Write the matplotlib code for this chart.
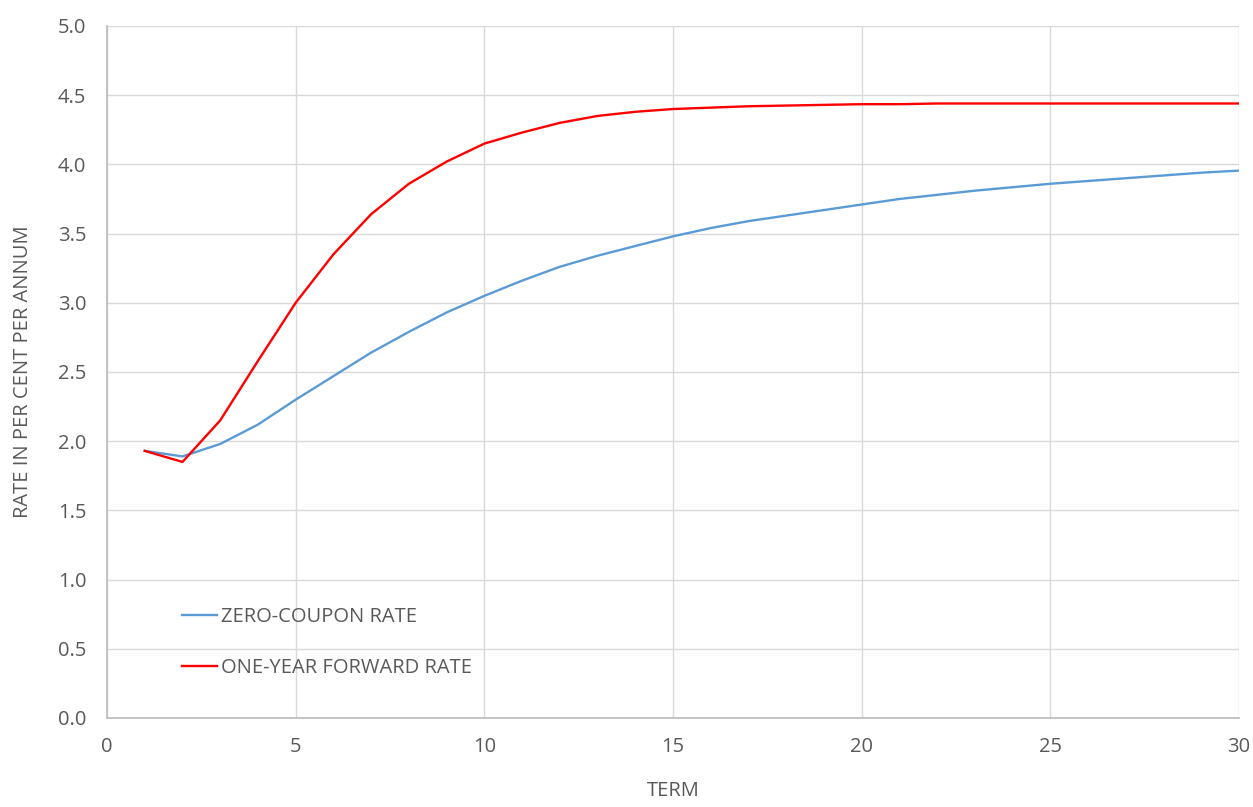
import matplotlib
matplotlib.use("Agg")
import matplotlib.pyplot as plt

# =====================================================
# Data
# =====================================================

term = list(range(1, 31))

zero_coupon = [1.93, 1.89, 1.98, 2.12, 2.30, 2.47, 2.64, 2.79, 2.93, 3.05,
               3.16, 3.26, 3.34, 3.41, 3.48, 3.54, 3.59, 3.63, 3.67, 3.71,
               3.75, 3.78, 3.81, 3.835, 3.86, 3.88, 3.90, 3.92, 3.94, 3.955]

forward = [1.93, 1.85, 2.15, 2.58, 3.00, 3.35, 3.64, 3.86, 4.02, 4.15,
           4.23, 4.30, 4.35, 4.38, 4.40, 4.41, 4.42, 4.425, 4.43, 4.435,
           4.435, 4.44, 4.44, 4.44, 4.44, 4.44, 4.44, 4.44, 4.44, 4.44]

x_ticks = [0, 5, 10, 15, 20, 25, 30]
y_ticks = [0.0, 0.5, 1.0, 1.5, 2.0, 2.5, 3.0, 3.5, 4.0, 4.5, 5.0]

text_col = "#595959"

plt.rcParams["font.family"] = ["Open Sans", "DejaVu Sans"]

fig = plt.figure(figsize=(12.53, 8.07), dpi=100)
ax = fig.add_axes([0.0854, 0.1103, 0.9034, 0.8575])

ax.plot(term, zero_coupon, color="#5b9bd5", linewidth=1.7, label="ZERO-COUPON RATE")
ax.plot(term, forward, color="#ff0000", linewidth=1.7, label="ONE-YEAR FORWARD RATE")

ax.set_xlim(0, 30)
ax.set_ylim(0, 5)
ax.set_xticks(x_ticks)
ax.set_yticks(y_ticks)
ax.set_yticklabels([f"{v:.1f}" for v in y_ticks])

ax.grid(True, color="#d9d9d9", linewidth=1)
ax.set_axisbelow(True)

for side in ["top", "right"]:
    ax.spines[side].set_visible(False)
for side in ["left", "bottom"]:
    ax.spines[side].set_color("#bfbfbf")
    ax.spines[side].set_linewidth(1.3)

ax.tick_params(length=0, labelsize=14.5, labelcolor=text_col)
ax.tick_params(axis="x", pad=14)
ax.tick_params(axis="y", pad=15)

ax.set_xlabel("TERM", fontsize=14.5, color=text_col, labelpad=17)
ax.set_ylabel("RATE IN PER CENT PER ANNUM", fontsize=14.5, color=text_col, labelpad=18)

leg = ax.legend(loc="lower left", bbox_to_anchor=(0.05, 0.031), frameon=False,
                fontsize=14.5, handlelength=1.75, handletextpad=0.2, labelspacing=1.55)
for t in leg.get_texts():
    t.set_color(text_col)

plt.savefig("out.png", dpi=100)
plt.close()
